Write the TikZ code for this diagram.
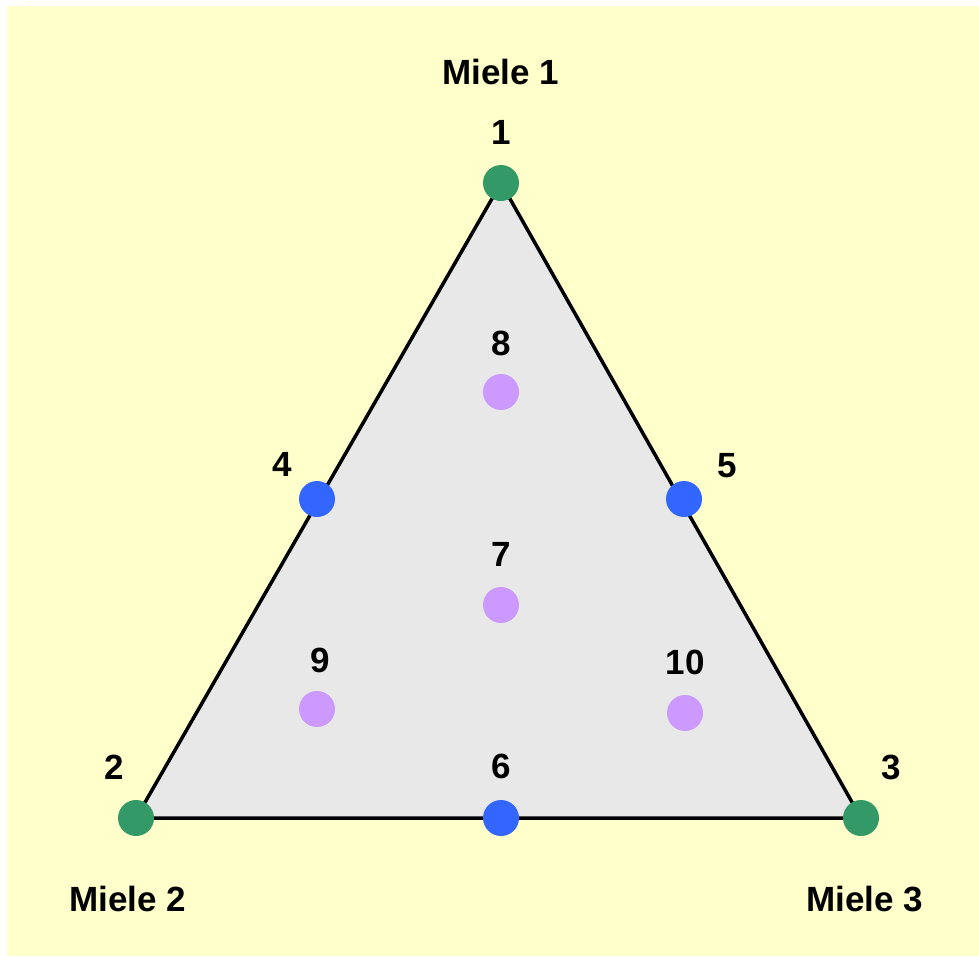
\documentclass[tikz,border=0pt]{standalone}
\usepackage{fontspec}
\setmainfont{Liberation Sans}
\definecolor{bgyellow}{HTML}{FFFFCC}
\definecolor{trigray}{HTML}{E8E8E8}
\definecolor{vgreen}{HTML}{339966}
\definecolor{egblue}{HTML}{3366FF}
\definecolor{inpurple}{HTML}{CC99FF}
\begin{document}
\begin{tikzpicture}[x=1pt,y=-1pt,
  dotg/.style={circle,fill=vgreen,inner sep=0pt,minimum size=36pt},
  dotb/.style={circle,fill=egblue,inner sep=0pt,minimum size=36pt},
  dotp/.style={circle,fill=inpurple,inner sep=0pt,minimum size=36pt},
  lab/.style={font=\fontsize{35}{40}\selectfont\bfseries,inner sep=0pt,anchor=center}]
\useasboundingbox (0,0) rectangle (979,956);
\fill[bgyellow] (7,6) rectangle (979,956);
\coordinate (c1) at (501,183);
\coordinate (c2) at (136,818);
\coordinate (c3) at (861,818);
\draw[fill=trigray,line width=3.5pt,line join=miter] (c1) -- (c2) -- (c3) -- cycle;
\node[dotg] (n1) at (c1) {};
\node[dotg] (n2) at (c2) {};
\node[dotg] (n3) at (c3) {};
\node[dotb] (n4) at (317,499) {};
\node[dotb] (n5) at (684,499) {};
\node[dotb] (n6) at (501,818) {};
\node[dotp] (n7) at (501,605) {};
\node[dotp] (n8) at (501,392) {};
\node[dotp] (n9) at (317,709) {};
\node[dotp] (n10) at (685,713) {};
\node[lab] (m1) at (501,72) {Miele 1};
\node[lab] (m2) at (128,899) {Miele 2};
\node[lab] (m3) at (865,899) {Miele 3};
\node[lab] (l1) at (501,132) {1};
\node[lab] (l2) at (114,767) {2};
\node[lab] (l3) at (891,767) {3};
\node[lab] (l4) at (282,464) {4};
\node[lab] (l5) at (727,466) {5};
\node[lab] (l6) at (501,766) {6};
\node[lab] (l7) at (501,554) {7};
\node[lab] (l8) at (501,343) {8};
\node[lab] (l9) at (320,660) {9};
\node[lab] (l10) at (685,662) {10};
\end{tikzpicture}
\end{document}
